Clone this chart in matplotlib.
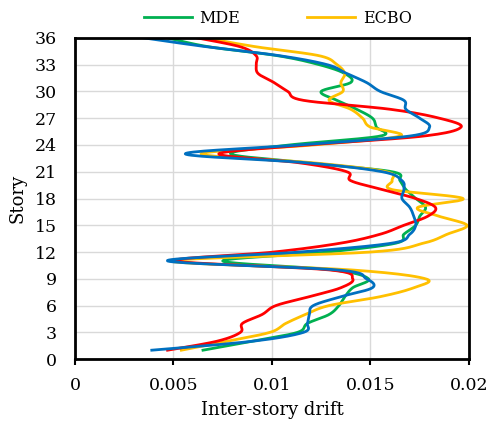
import numpy as np
import matplotlib.pyplot as plt

plt.rcParams['font.family'] = ['DejaVu Serif']

stories = np.arange(1, 37)

# inter-story drift per story
mde = [0.0065, 0.0090, 0.0113, 0.0118, 0.0129, 0.0134, 0.0137, 0.0141, 0.0149, 0.0131,
       0.0075, 0.0128, 0.0163, 0.0167, 0.0173, 0.0175, 0.0178, 0.0173, 0.0168, 0.0165,
       0.0161, 0.0118, 0.0079, 0.0109, 0.0155, 0.0153, 0.0151, 0.0143, 0.0133, 0.0125,
       0.0140, 0.0137, 0.0124, 0.0103, 0.0068, 0.0047]
ecbo = [0.0054, 0.0077, 0.0099, 0.0107, 0.0117, 0.0129, 0.0155, 0.0172, 0.0178, 0.0140,
        0.0049, 0.0150, 0.0177, 0.0189, 0.0199, 0.0185, 0.0174, 0.0197, 0.0161, 0.0161,
        0.0158, 0.0121, 0.0064, 0.0121, 0.0165, 0.0150, 0.0146, 0.0140, 0.0129, 0.0136,
        0.0135, 0.0137, 0.0133, 0.0124, 0.0092, 0.0066]
red = [0.0047, 0.0072, 0.0084, 0.0085, 0.0095, 0.0102, 0.0119, 0.0135, 0.0141, 0.0129,
       0.0051, 0.0101, 0.0135, 0.0155, 0.0167, 0.0179, 0.0183, 0.0173, 0.0156, 0.0140,
       0.0138, 0.0114, 0.0073, 0.0118, 0.0177, 0.0196, 0.0185, 0.0160, 0.0116, 0.0108,
       0.0101, 0.0093, 0.0092, 0.0092, 0.0084, 0.0062]
blue = [0.0039, 0.0090, 0.0116, 0.0118, 0.0119, 0.0121, 0.0135, 0.0151, 0.0148, 0.0133,
        0.0047, 0.0114, 0.0161, 0.0170, 0.0173, 0.0172, 0.0170, 0.0166, 0.0167, 0.0166,
        0.0156, 0.0118, 0.0056, 0.0114, 0.0170, 0.0180, 0.0175, 0.0168, 0.0167, 0.0155,
        0.0148, 0.0138, 0.0128, 0.0104, 0.0067, 0.0035]


def smooth(xs, ys, sx=394 / 0.02, sy=321 / 36, n=20):
    # excel-like smoothed line (catmull-rom bezier in screen space)
    p = np.column_stack([np.asarray(xs) * sx, np.asarray(ys) * sy])
    out = [p[0]]
    for i in range(len(p) - 1):
        p0 = p[i - 1] if i > 0 else p[i]
        p3 = p[i + 2] if i + 2 < len(p) else p[i + 1]
        c1 = p[i] + (p[i + 1] - p0) / 6
        c2 = p[i + 1] - (p3 - p[i]) / 6
        t = np.linspace(0, 1, n)[1:, None]
        seg = ((1 - t) ** 3 * p[i] + 3 * (1 - t) ** 2 * t * c1
               + 3 * (1 - t) * t ** 2 * c2 + t ** 3 * p[i + 1])
        out.extend(seg)
    out = np.array(out)
    return out[:, 0] / sx, out[:, 1] / sy


fig = plt.figure(figsize=(4.9, 4.21), dpi=100)
ax = fig.add_axes([0.153, 0.147, 0.804, 0.763])

x, y = smooth(mde, stories)
ax.plot(x, y, color='#00B050', lw=2, label='MDE')
x, y = smooth(ecbo, stories)
ax.plot(x, y, color='#FFC000', lw=2, label='ECBO')
x, y = smooth(red, stories)
ax.plot(x, y, color='#FF0000', lw=2)
x, y = smooth(blue, stories)
ax.plot(x, y, color='#0070C0', lw=2)

ax.set_xlim(0, 0.02)
ax.set_ylim(0, 36)
ax.set_xticks([0, 0.005, 0.01, 0.015, 0.02])
ax.set_xticklabels(['0', '0.005', '0.01', '0.015', '0.02'])
ax.set_yticks(np.arange(0, 37, 3))
ax.tick_params(labelsize=12.5)
ax.tick_params(axis='x', length=4, width=1.5, pad=9)
ax.tick_params(axis='y', length=0, pad=13)
ax.grid(True, color='#D9D9D9', lw=1)
ax.set_axisbelow(True)
for s in ax.spines.values():
    s.set_linewidth(2)
    s.set_color('black')

ax.set_xlabel('Inter-story drift', fontsize=13, labelpad=5)
ax.set_ylabel('Story', fontsize=13, labelpad=6)
ax.legend(loc='lower center', bbox_to_anchor=(0.515, 1.01), ncol=2, frameon=False,
          fontsize=11.5, handlelength=3.0, handletextpad=0.5, columnspacing=4.2,
          borderaxespad=0.1)

fig.savefig('out.png', dpi=100)
